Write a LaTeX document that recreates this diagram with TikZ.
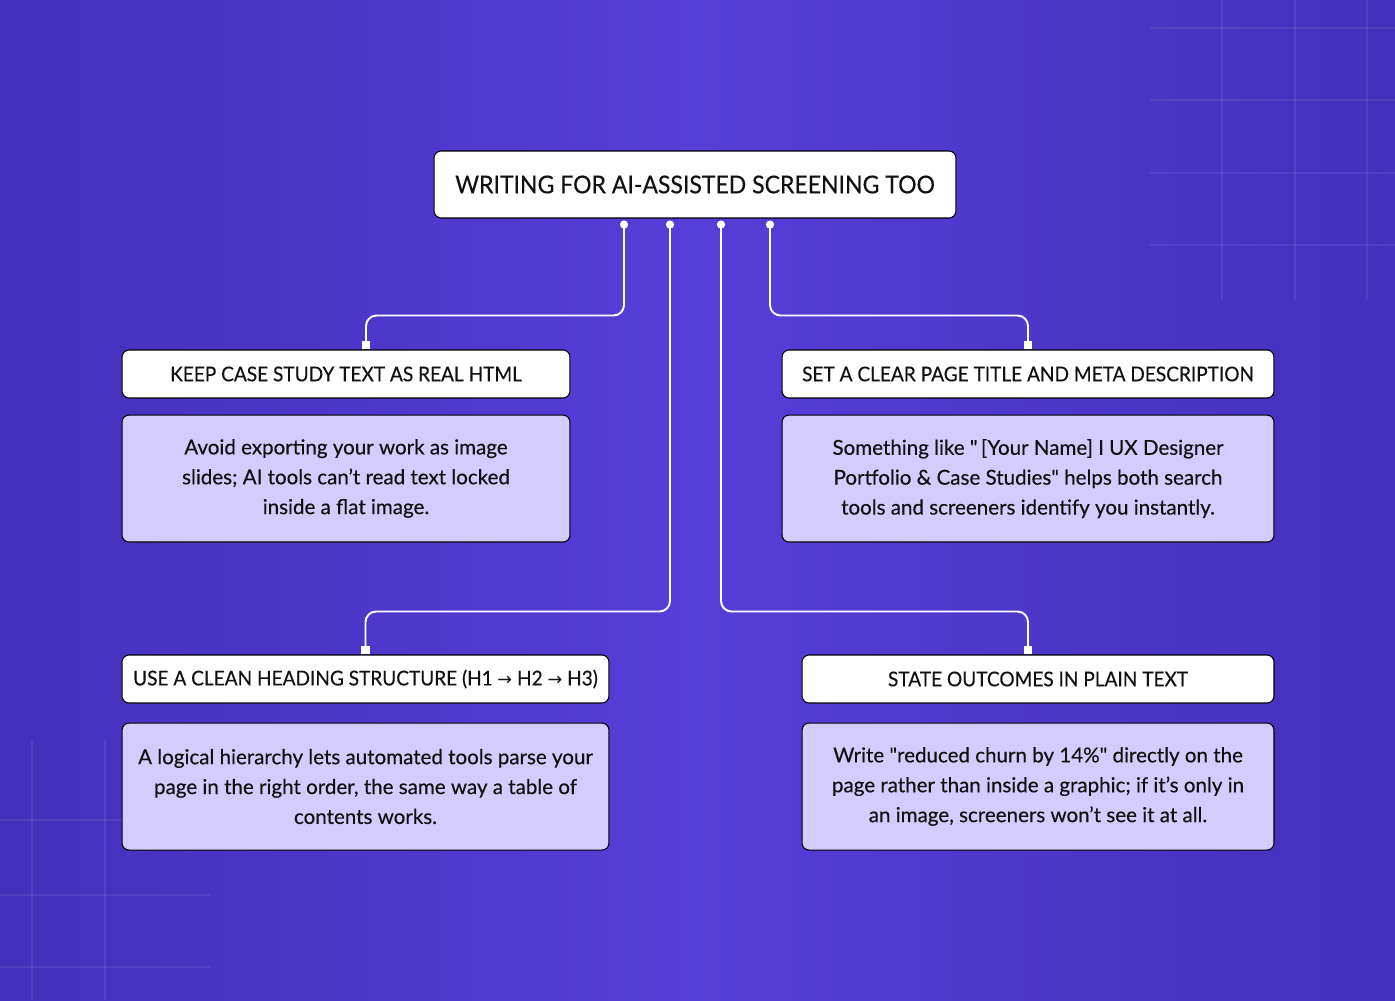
\documentclass[tikz,border=0pt]{standalone}
\usepackage{fontspec}
\setmainfont{Lato}[Ligatures=TeXOff, FakeBold=0.3]
\newfontfamily\headfont{Lato}[FakeStretch=0.935, FakeBold=0.3, Ligatures=TeXOff]
\newfontfamily\arrowfont{DejaVu Sans}
\usetikzlibrary{arrows.meta, positioning}

\definecolor{bgedge}{HTML}{4430BB}
\definecolor{bgmid}{HTML}{563ED8}
\definecolor{tipfill}{HTML}{D3CCFC}
\definecolor{ink}{HTML}{111111}

\newcommand{\headarrow}{{\arrowfont\fontsize{10}{12}\selectfont →}}

\begin{document}
\begin{tikzpicture}[
        x=0.02cm, y=-0.02cm,
        node distance=0.32cm,
        head/.style={rectangle, draw=black, line width=0.6pt, rounded corners=4pt, fill=white, text=ink, minimum height=0.96cm, inner sep=0pt, align=center, font=\headfont\fontsize{11.6}{14}\selectfont},
        tip/.style={rectangle, draw=black, line width=0.6pt, rounded corners=4pt, fill=tipfill, text=ink, minimum height=2.54cm, inner sep=0pt, align=center, font=\fontsize{11.7}{17}\selectfont},
        wire/.style={white, line width=1.1pt, rounded corners=6pt, {Circle[length=4.6pt]}-{Square[length=5pt, width=5pt]}},
        gridline/.style={white, opacity=0.07, line width=0.6pt}
    ]

    % Background
    \useasboundingbox (0,0) rectangle (1395,1000);
    \shade[left color=bgedge, right color=bgedge, middle color=bgmid] (0,0) rectangle (1395,1000);
    \foreach \gx in {1222,1295,1367} \draw[gridline] (\gx,0) -- (\gx,300);
    \foreach \gy in {28,100,173,245} \draw[gridline] (1150,\gy) -- (1395,\gy);
    \foreach \gx in {32,105} \draw[gridline] (\gx,740) -- (\gx,1000);
    \foreach \gy in {820,895,967} \draw[gridline] (0,\gy) -- (210,\gy);

    % Nodes
    \node[head, minimum width=10.44cm, minimum height=1.34cm, font=\headfont\fontsize{14}{16}\selectfont] (title) at (695,184.5) {WRITING FOR AI-ASSISTED SCREENING TOO};

    \node[head, minimum width=8.96cm] (keep) at (346,374) {KEEP CASE STUDY TEXT AS REAL HTML};
    \node[tip, minimum width=8.96cm, below=of keep] (keepbody) {Avoid exporting your work as image\\slides; AI tools can’t read text locked\\inside a flat image.};

    \node[head, minimum width=9.84cm] (meta) at (1028,374) {SET A CLEAR PAGE TITLE AND META DESCRIPTION};
    \node[tip, minimum width=9.84cm, below=of meta] (metabody) {Something like "\,[Your Name] I UX Designer\\Portfolio \& Case Studies" helps both search\\tools and screeners identify you instantly.};

    \node[head, minimum width=9.74cm] (heading) at (365.5,679) {USE A CLEAN HEADING STRUCTURE (H1 \headarrow{} H2 \headarrow{} H3)};
    \node[tip, minimum width=9.74cm, below=0.38cm of heading] (headingbody) {A logical hierarchy lets automated tools parse your\\page in the right order, the same way a table of\\contents works.};

    \node[head, minimum width=9.44cm] (outcome) at (1038,679) {STATE OUTCOMES IN PLAIN TEXT};
    \node[tip, minimum width=9.44cm, below=0.38cm of outcome] (outcomebody) {Write "reduced churn by 14\%" directly on the\\page rather than inside a graphic; if it’s only in\\an image, screeners won’t see it at all.};

    % Connector ends
    \coordinate (d1) at ([xshift=-1.42cm, yshift=-0.04cm]title.south);
    \coordinate (d2) at ([xshift=-0.5cm, yshift=-0.04cm]title.south);
    \coordinate (d3) at ([xshift=0.52cm, yshift=-0.04cm]title.south);
    \coordinate (d4) at ([xshift=1.5cm, yshift=-0.04cm]title.south);
    \coordinate (keepin) at ([xshift=0.4cm]keep.north);
    \coordinate (outcomein) at ([xshift=-0.2cm]outcome.north);

    % Connectors
    \draw[wire] (d1) -- ++(0,95) -| (keepin);
    \draw[wire] (d4) -- ++(0,95) -| (meta.north);
    \draw[wire] (d2) -- ++(0,391) -| (heading.north);
    \draw[wire] (d3) -- ++(0,391) -| (outcomein);

\end{tikzpicture}
\end{document}
